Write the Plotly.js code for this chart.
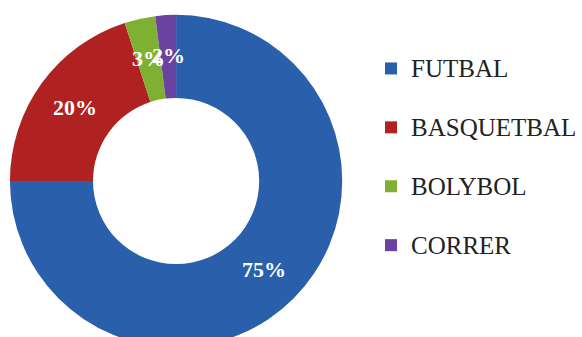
<!DOCTYPE html>
<html>
<head>
<meta charset="utf-8">
<script src="https://cdn.plot.ly/plotly-3.0.1.min.js"></script>
<style>
html,body{margin:0;padding:0;overflow:hidden;background:#fff;width:582px;height:337px;}
#chart{width:582px;height:360px;}
</style>
</head>
<body>
<div id="chart"></div>
<script>
const categories = ["FUTBAL", "BASQUETBAL", "BOLYBOL", "CORRER"];
const values = [75, 20, 3, 2];
const colors = ["#2a5fab", "#b02222", "#7fb031", "#6a42a0"];

const SERIF = "Liberation Serif, serif";

const legendLabels = categories.map(c =>
  '<span style="font-family:Liberation Serif,serif;font-size:25px;baseline-shift:8px">' + c + '</span>');

const W = 582, H = 360;
const cx = 177, cy = 181, R = 167, hole = 0.5;

const trace = {
  type: "pie",
  labels: legendLabels,
  values: values,
  hole: hole,
  sort: false,
  direction: "clockwise",
  rotation: 0,
  marker: {colors: colors},
  textinfo: "none",
  domain: {x: [(cx - R) / W, (cx + R) / W], y: [(H - cy - R) / H, (H - cy + R) / H]},
  hoverinfo: "none"
};

// percentage labels placed at each slice's mid-angle, mid-ring, derived from the values
const total = values.reduce((a, b) => a + b, 0);
const annotations = [];
let cum = 0;
values.forEach(v => {
  const mid = (cum + v / 2) / total * 2 * Math.PI;
  cum += v;
  const rMid = R * (1 + hole) / 2;
  const px = cx + rMid * Math.sin(mid);
  const py = cy - rMid * Math.cos(mid);
  annotations.push({
    xref: "paper", yref: "paper",
    x: px / W, y: (H - py) / H,
    text: "<b>" + Math.round(v / total * 100) + "%</b>",
    showarrow: false,
    font: {family: SERIF, size: 22, color: "#ffffff"},
    xanchor: "center", yanchor: "middle"
  });
});

const layout = {
  width: W,
  height: H,
  margin: {l: 0, r: 0, t: 0, b: 0},
  showlegend: true,
  annotations: annotations,
  legend: {
    x: 373 / W, xanchor: "left",
    y: 1 - 34 / H, yanchor: "top",
    font: {family: SERIF, size: 43, color: "#222222"}
  }
};

Plotly.newPlot("chart", [trace], layout, {displayModeBar: false});
</script>
</body>
</html>
